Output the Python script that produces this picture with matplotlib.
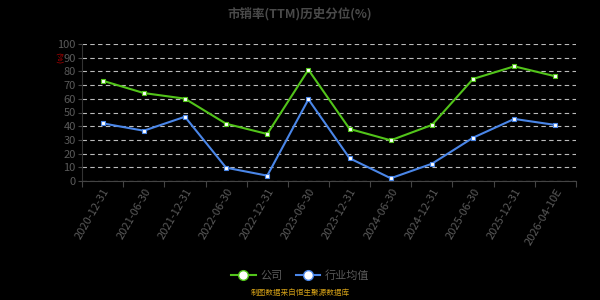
import matplotlib
matplotlib.use("Agg")
import matplotlib.pyplot as plt
from matplotlib.lines import Line2D

plt.rcParams['font.family'] = ['Noto Sans CJK SC', 'DejaVu Sans']

categories = ["2020-12-31", "2021-06-30", "2021-12-31", "2022-06-30", "2022-12-31",
              "2023-06-30", "2023-12-31", "2024-06-30", "2024-12-31", "2025-06-30",
              "2025-12-31", "2026-04-10E"]
company = [73.2, 64.2, 60.1, 41.8, 34.3, 81.2, 38.0, 29.7, 40.9, 74.5, 83.7, 76.4]
industry = [42.1, 36.7, 46.9, 9.7, 3.9, 59.6, 16.6, 2.0, 12.6, 31.6, 45.3, 40.9]
yticks = list(range(0, 101, 10))

green = "#52c41a"
blue = "#4a86e8"
gray = "#5a5a5a"

fig = plt.figure(figsize=(6, 3), dpi=100, facecolor="black")
ax = fig.add_axes([82/600, 1-181/300, (576-82)/600, (181-44)/300], facecolor="black")

x = list(range(len(categories)))
ax.plot(x, company, color=green, lw=1.5, marker="s", ms=3, mfc="white", mec=green, mew=0.8, zorder=3)
ax.plot(x, industry, color=blue, lw=1.5, marker="s", ms=3, mfc="white", mec=blue, mew=0.8, zorder=3)

ax.set_xlim(-0.5, len(categories)-0.5)
ax.set_ylim(0, 100)
ax.set_yticks(yticks)
ax.set_yticklabels([str(v) for v in yticks], color=gray, fontsize=8)
ax.set_xticks([i - 0.5 for i in range(len(categories)+1)], minor=False)
ax.set_xticklabels([])
ax.set_xticks(x, minor=True)
ax.set_xticklabels(categories, minor=True, rotation=60, ha="right", rotation_mode="anchor",
                   color=gray, fontsize=8)
ax.tick_params(axis="x", which="minor", length=0, pad=4)
ax.tick_params(axis="x", which="major", length=4, color="#444444")
ax.tick_params(axis="y", length=3, color="#444444", pad=1.5)
ax.grid(axis="y", color="#bbbbbb", ls=(0, (4, 3)), lw=0.8)
for s in ["top", "right"]:
    ax.spines[s].set_visible(False)
ax.spines["bottom"].set_color("#444444")
ax.spines["left"].set_color("#333333")

fig.text(0.5, 0.975, "市销率(TTM)历史分位(%)", ha="center", va="top", color="#4a4a4a",
         fontsize=9, fontweight="bold")
fig.text(58/600, 1-58/300, "(%)", rotation=270, ha="center", va="center", color="#cc0000", fontsize=5.5)

handles = [Line2D([0], [0], color=green, lw=1.5, marker="o", ms=7, mfc="white", mec=green),
           Line2D([0], [0], color=blue, lw=1.5, marker="o", ms=7, mfc="white", mec=blue)]
leg = fig.legend(handles, ["公司", "行业均值"], loc="center", bbox_to_anchor=(0.5, 1-276/300),
                 ncol=2, frameon=False, fontsize=8, handlelength=2.2, columnspacing=1.2,
                 handletextpad=0.4, labelcolor=gray)
fig.text(0.5, 1-293/300, "制图数据来自恒生聚源数据库", ha="center", va="center", color="#d4a017", fontsize=5.5)

fig.savefig("out.png", dpi=100, facecolor="black")
